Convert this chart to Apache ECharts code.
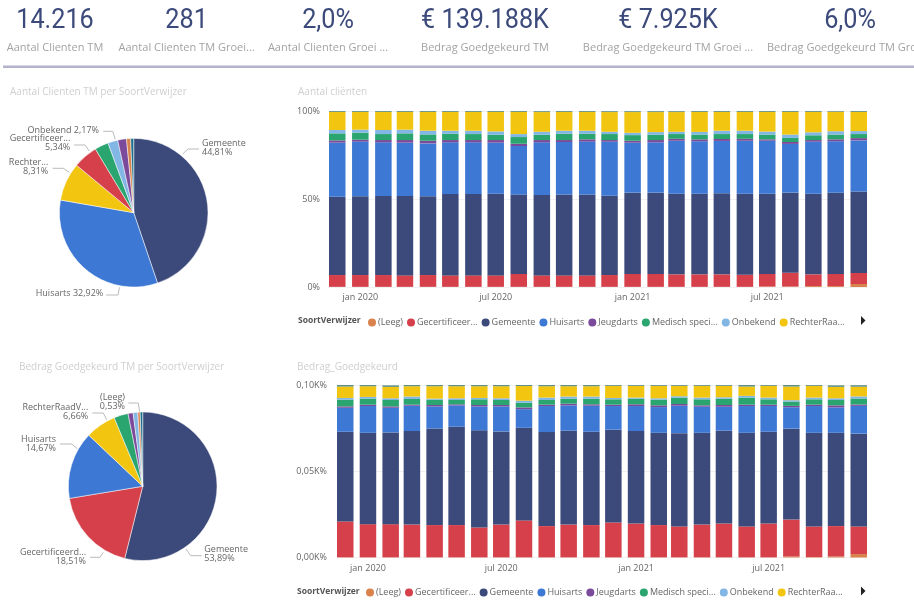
<!DOCTYPE html>
<html><head><meta charset="utf-8">
<style>html,body{margin:0;padding:0;background:#fff}#c{width:914px;height:612px}</style>
<script src="https://cdn.jsdelivr.net/npm/echarts@6/dist/echarts.min.js"></script>
</head><body><div id="c"></div>
<script>
const months=["2019-12-01","2020-01-01","2020-02-01","2020-03-01","2020-04-01","2020-05-01","2020-06-01","2020-07-01","2020-08-01","2020-09-01","2020-10-01","2020-11-01","2020-12-01","2021-01-01","2021-02-01","2021-03-01","2021-04-01","2021-05-01","2021-06-01","2021-07-01","2021-08-01","2021-09-01","2021-10-01","2021-11-01"];
const tickMonths=["2020-01-01","2020-07-01","2021-01-01","2021-07-01"];
const tickLabels=["jan 2020","jul 2020","jan 2021","jul 2021"];
const seriesNames=["(Leeg)","Gecertificeer...","Gemeente","Huisarts","Jeugdarts","Medisch speci...","Onbekend","RechterRaa...","Overig"];
const seriesColors=["#d9824b","#d5404a","#3b4a7a","#3d78d4","#7c4a9a","#2aa56f","#82b6e4","#f2c511","#5f8f86"];

// Aantal cliënten (% per month)
const cLeeg=[.1,.1,.1,.1,.1,.1,.1,.1,.1,.1,.1,.1,.1,.1,.1,.1,.1,.1,.1,.3,.3,.5,.5,1.7];
const cGecert=[6.7,6.7,6.7,6.5,6.7,6.5,6.5,6.5,7.3,6.5,6.5,6.5,6.7,7.3,7.3,7.1,7.1,7.1,6.9,7.1,7.8,6.7,6.9,6.3];
const cGemeente=[44.5,44.7,44.9,45.1,44.7,46.2,46.2,46.4,45.1,45.7,45.9,45.9,45.1,46.2,46.2,45.8,45.8,46.0,46.0,45.6,45.5,45.8,46.2,46.2];
const cHuisarts=[30.7,31.1,30.5,30.3,30.1,29.4,29.4,29.0,27.6,29.9,29.9,30.1,30.7,28.4,28.6,30.1,29.8,29.8,30.1,30.1,27.7,29.6,29.2,29.1];
const cJeugd=[1.3,1.1,1.3,1.5,1.5,1.3,1.3,1.5,1.3,1.3,1.1,1.3,.9,1.1,1.3,1.1,1.1,1.1,1.1,.8,1.1,.9,1.1,1.3];
const cMedisch=[4.0,4.0,3.4,3.8,3.6,3.6,3.4,3.0,3.8,3.0,3.6,3.2,3.4,3.2,3.0,2.7,2.7,2.8,2.7,2.7,2.3,2.7,2.7,2.3];
const cOnbekend=[1.9,1.7,2.3,2.1,2.1,1.7,1.9,1.9,1.7,1.7,1.7,1.7,1.3,1.3,1.5,1.3,1.5,1.9,1.9,1.7,1.9,1.7,1.9,1.7];
const cRechter=[10.3,10.1,10.3,10.1,10.7,10.7,10.7,11.1,12.6,11.2,10.7,10.7,11.2,11.8,11.4,11.2,11.4,10.7,10.7,11.2,12.9,11.6,11.1,10.9];
const cOverig=[.5,.5,.5,.5,.5,.5,.5,.5,.5,.5,.5,.5,.5,.5,.5,.5,.5,.5,.5,.5,.5,.5,.5,.5];

// Bedrag_Goedgekeurd (% per month)
const bLeeg=[.1,.1,.1,.1,.1,.1,.1,.1,.1,.1,.1,.1,.1,.1,.1,.1,.1,.1,.1,.1,.6,.3,.6,2.0];
const bGecert=[20.8,19.2,19.2,19.0,18.7,18.7,17.3,19.0,21.4,18.1,19.0,18.7,20.2,19.6,18.7,17.9,19.0,19.6,17.9,19.6,21.4,17.7,17.6,16.0];
const bGemeente=[52.0,53.0,53.2,54.2,56.0,57.0,56.3,54.0,53.7,54.5,54.4,54.1,53.8,53.6,53.5,54.1,53.2,53.8,54.3,53.2,52.7,54.3,54.1,53.8];
const bHuisarts=[13.9,15.5,14.3,14.7,12.8,12.4,13.9,14.5,10.8,15.1,14.7,15.1,13.7,14.5,14.9,15.9,15.1,13.9,15.5,14.9,12.4,15.5,14.7,16.1];
const bJeugd=[.8,.8,.8,.6,.8,.6,.8,.8,1.0,.8,1.0,.8,.8,1.0,1.0,1.0,.8,1.0,.8,.8,.8,.8,1.2,.8];
const bMedisch=[3.9,3.5,3.7,3.3,3.1,2.5,3.3,2.9,2.7,2.7,2.9,3.3,3.1,3.3,3.3,3.7,3.5,3.7,4.1,3.1,2.5,3.1,3.1,3.5];
const bOnbekend=[1.0,1.0,1.0,1.4,.6,1.0,.8,1.0,1.2,1.4,1.2,1.2,.8,.6,.8,.8,1.0,.8,1.0,1.0,.8,1.0,1.0,1.2];
const bRechter=[6.6,6.2,6.6,6.0,7.2,7.0,6.8,7.0,8.5,6.6,6.0,6.0,7.0,6.8,7.2,6.0,6.8,6.6,5.4,6.8,7.9,6.8,6.6,5.6];
const bOverig=[.9,.9,.9,.9,.9,.9,.9,.9,.9,.9,.9,.9,.9,.9,.9,.9,.9,.9,.9,.9,.9,.9,.9,.9];

// Pies
const pie1Names=["Gemeente","Huisarts","RechterRaad","Gecertificeerd","Medisch","Onbekend","Jeugdarts","(Leeg)","Overig"];
const pie1Values=[44.81,32.92,8.31,5.34,3.0,2.17,1.9,.9,.65];
const pie1Labels=["Gemeente\n44,81%","Huisarts 32,92%","Rechter...\n8,31%","Gecertificeer...\n5,34%","","Onbekend 2,17%","","",""];
const pie1Colors=["#3b4a7a","#3d78d4","#f2c511","#d5404a","#2aa56f","#82b6e4","#7c4a9a","#d9824b","#1f6f8b"];
const pie2Names=["Gemeente","Gecertificeerd","Huisarts","RechterRaadV","Medisch","Jeugdarts","Onbekend","(Leeg)","Overig"];
const pie2Values=[53.89,18.51,14.67,6.66,3.1,1.1,1.0,.53,.54];
const pie2Labels=["Gemeente\n53,89%","Gecertificeerd...\n18,51%","Huisarts\n14,67%","RechterRaadV...\n6,66%","","","","(Leeg)\n0,53%",""];
const pie2Colors=["#3b4a7a","#d5404a","#3d78d4","#f2c511","#2aa56f","#7c4a9a","#82b6e4","#d9824b","#1f6f8b"];

// KPI cards
const kpiValues=["14.216","281","2,0%","€ 139.188K","€ 7.925K","6,0%"];
const kpiLabels=["Aantal Clienten TM","Aantal Clienten TM Groei...","Aantal Clienten Groei ...","Bedrag Goedgekeurd TM","Bedrag Goedgekeurd TM Groei ...","Bedrag Goedgekeurd TM Groei ..."];

const yLabels1={0:"0%",50:"50%",100:"100%"};
const yLabels2={0:"0,00K%",50:"0,05K%",100:"0,10K%"};

// layout of the pie labels: [text x, text y, align, leader-line points]
const pie1LabelLayout={
  0:[202,148,'left',[[182.7,154],[188,149],[199,149]]],
  1:[103.3,293.3,'right',[[119.5,287.3],[118,295],[106,295]]],
  2:[48.3,167,'right',[[69.3,172.3],[63.3,168.3],[52.7,168.3]]],
  3:[70.3,143.3,'right',[[89.3,151],[85,145],[74,145]]],
  5:[99,130.7,'right',[[115.3,139.3],[112.7,131.3],[103.3,131.3]]]
};
const pie2LabelLayout={
  0:[204.3,554,'left',[[186,549],[190.7,555.7],[201.7,555.7]]],
  1:[86,557,'right',[[103.3,552.3],[100,557.3],[90,557.3]]],
  2:[56,443.5,'right',[[77.3,448.7],[71.7,444],[60,444]]],
  3:[88.3,412.3,'right',[[106.7,419.7],[103.3,413],[92.3,413]]],
  7:[125,402,'right',[[139.7,411.7],[138.3,403],[128.3,403]]]
};

const FONT='"Open Sans", sans-serif';
const BAR=16.5, DAY=864e5, ts=s=>{const p=s.split('-');return Date.UTC(+p[0],+p[1]-1,+p[2]);};
const kpiX=[55,186.6,328,485,668,850];
const kpiLabelX=[55,186.6,328,485,668,767];

const title=[];
kpiLabels.forEach((t,i)=>title.push({text:t,left:kpiLabelX[i],top:42,padding:0,textAlign:i===5?'left':'center',textStyle:{fontFamily:FONT,fontWeight:'normal',fontSize:11,color:'#a3a3a3'}}));
[["Aantal Clienten TM per SoortVerwijzer",10,87],["Aantal cliënten",298,87],["Bedrag Goedgekeurd TM per SoortVerwijzer",19,362],["Bedrag_Goedgekeurd",297,362]]
  .forEach(a=>title.push({text:a[0],left:a[1],top:a[2],padding:0,textStyle:{fontFamily:FONT,fontWeight:'normal',fontSize:10,color:'#cfcfcf'}}));
[[298,316.5],[297,587]].forEach(a=>title.push({text:"SoortVerwijzer",left:a[0],top:a[1],padding:0,textStyle:{fontFamily:FONT,fontWeight:'bold',fontSize:8.5,color:'#555'}}));

const grids=[{left:329,width:538,top:111,height:176},{left:337,width:530,top:385,height:172.5}];
const first=ts(months[0]), last=ts(months[23]);
// the time axes carry the bars (ECharts widens them by half a bar each side);
// the value axes over them carry the month labels, widened by the same amount
const xAxes=grids.map((g,i)=>({type:'time',gridIndex:i,position:'bottom',min:first,max:last,
  axisLine:{show:false},axisTick:{show:false},splitLine:{show:false},axisLabel:{show:false}}))
 .concat(grids.map((g,i)=>{const pad=(BAR/2)*(last-first)/(g.width-BAR);return {type:'value',gridIndex:i,position:'bottom',min:first-pad,max:last+pad,
  axisLine:{show:false},axisTick:{show:false},splitLine:{show:false},
  axisLabel:{customValues:tickMonths.map(ts),fontFamily:FONT,fontSize:9,color:'#666',margin:6,hideOverlap:false,
    formatter:v=>tickLabels[tickMonths.map(ts).indexOf(+v)]||''}};}));
const yAxes=[yLabels1,yLabels2].map((m,i)=>({type:'value',gridIndex:i,min:0,max:100,interval:50,
  axisLine:{show:false},axisTick:{show:false},splitLine:{lineStyle:{color:'#f0f0f0'}},
  axisLabel:{fontFamily:FONT,fontSize:9,color:'#666',margin:i?10:9,formatter:v=>m[v]}}));

const series=[];
[[cLeeg,cGecert,cGemeente,cHuisarts,cJeugd,cMedisch,cOnbekend,cRechter,cOverig],
 [bLeeg,bGecert,bGemeente,bHuisarts,bJeugd,bMedisch,bOnbekend,bRechter,bOverig]].forEach((set,g)=>{
  set.forEach((vals,k)=>series.push({type:'bar',name:seriesNames[k],stack:'s'+g,xAxisIndex:g,yAxisIndex:g,barWidth:BAR,
    color:seriesColors[k],silent:true,animation:false,itemStyle:{color:seriesColors[k]},
    data:months.map((m,j)=>[ts(m),vals[j]])}));
});
const pie=(names,vals,labels,colors,center,layout)=>({type:'pie',center,radius:74.3,startAngle:90,animation:false,silent:true,
  itemStyle:{borderColor:'#fff',borderWidth:.5},
  label:{fontFamily:FONT,fontSize:9,color:'#666',lineHeight:9,width:110,overflow:'none',formatter:p=>labels[p.dataIndex]},
  labelLine:{length:7,length2:12,lineStyle:{color:'#bbb',width:1}},
  labelLayout:p=>{const l=layout[p.dataIndex];return l?{x:l[0],y:l[1],align:l[2],verticalAlign:'middle',labelLinePoints:l[3]}:{};},
  data:names.map((n,i)=>({name:n,value:vals[i],itemStyle:{color:colors[i]},
    label:{show:labels[i]!==""},labelLine:{show:labels[i]!==""}}))});
series.push(pie(pie1Names,pie1Values,pie1Labels,pie1Colors,[133.7,212.7],pie1LabelLayout));
series.push(pie(pie2Names,pie2Values,pie2Labels,pie2Colors,[142.7,486.3],pie2LabelLayout));

const legendNames=seriesNames.slice(0,8);
const legend=[[368,318],[366,588]].map(a=>({left:a[0],top:a[1],data:legendNames,icon:'circle',itemWidth:8,itemHeight:8,itemGap:4,selectedMode:false,
  padding:0,textStyle:{fontFamily:FONT,fontSize:9,color:'#666',padding:[0,0,0,-3]}}));

const chart=echarts.init(document.getElementById('c'),null,{renderer:'canvas'});
chart.setOption({animation:false,backgroundColor:'#fff',title,grid:grids,xAxis:xAxes,yAxis:yAxes,legend,series,
  graphic:[
    {type:'rect',shape:{x:3,y:65.5,width:911,height:2.5},style:{fill:'#b3b3cb'}},
    {type:'polygon',shape:{points:[[861,316],[865.5,320.5],[861,325]]},style:{fill:'#222'}},
    {type:'polygon',shape:{points:[[861,586.5],[865.5,591],[861,595.5]]},style:{fill:'#222'}}
  ].concat(kpiValues.map((t,i)=>({type:'text',x:kpiX[i],y:20.5,scaleX:.9,
    style:{text:t,textAlign:'center',textVerticalAlign:'middle',fill:'#3b4a7a',font:'28px Roboto, sans-serif'}})))});
</script></body></html>
